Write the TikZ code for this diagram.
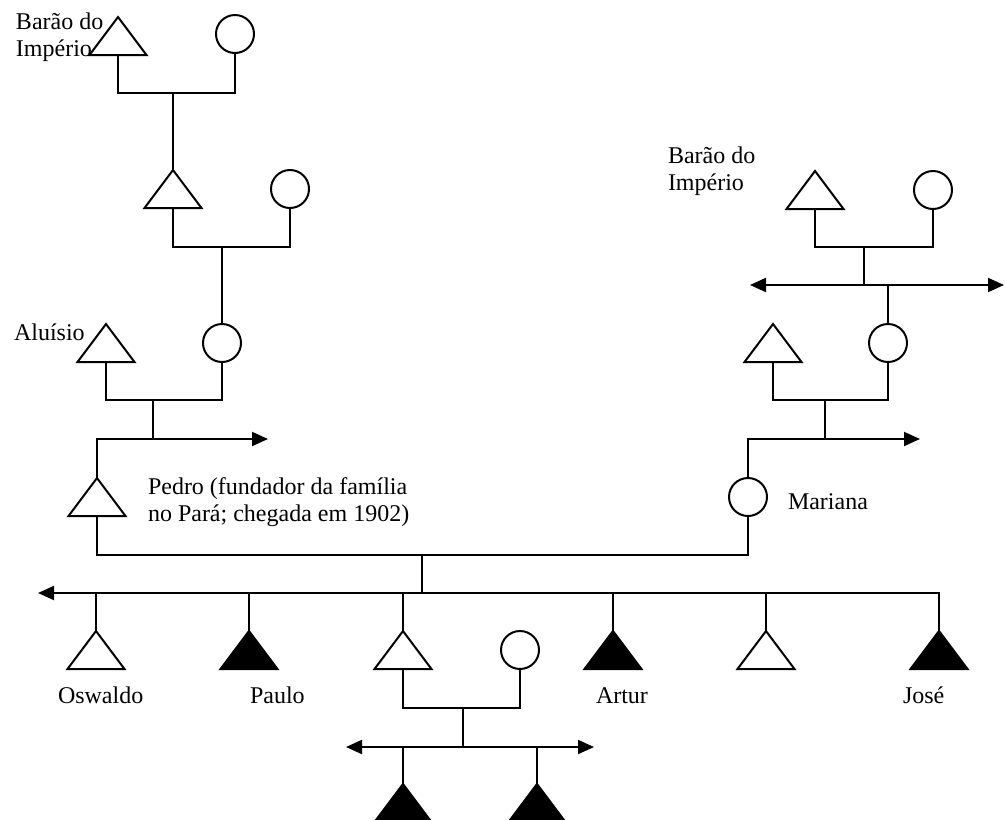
\documentclass[tikz,border=0pt]{standalone}
\usepackage{fontspec}
\setmainfont{Liberation Serif}
\usetikzlibrary{arrows.meta}

\begin{document}
\begin{tikzpicture}[x=1pt,y=-1pt,line width=2pt,
  >={Triangle[length=16pt,width=14pt]},
  homem/.style={rectangle,inner sep=0pt,outer sep=0pt,minimum width=57pt,minimum height=38pt,
    append after command={\pgfextra{\draw[line join=miter,#1] (\tikzlastnode.north)--(\tikzlastnode.south east)--(\tikzlastnode.south west)--cycle;}}},
  homem/.default={},
  homemP/.style={homem={fill=black}},
  mulher/.style={circle,draw,inner sep=0pt,minimum size=38pt},
  rotulo/.style={font=\fontsize{24}{27}\selectfont,inner sep=0pt,align=left,anchor=base west}]
  \useasboundingbox (0,0) rectangle (1005,820);
  % ramo do barao (esquerda)
  \node[homem] (bar1) at (118,36) {};
  \node[mulher] (esp1) at (235,34) {};
  \node[homem] (av1) at (173,189) {};
  \node[mulher] (esp2) at (290,189) {};
  \node[homem] (alu) at (106,343) {};
  \node[mulher] (mae) at (222,343) {};
  \node[homem] (ped) at (97,497) {};
  % ramo do barao (direita)
  \node[homem] (bar2) at (815,190) {};
  \node[mulher] (esp3) at (933,190) {};
  \node[homem] (avR) at (773,343) {};
  \node[mulher] (maeR) at (888,343) {};
  \node[mulher] (mar) at (748,497) {};
  % filhos e netos
  \node[homem] (f1) at (96,650) {};
  \node[homemP] (f2) at (249,650) {};
  \node[homem] (f3) at (403,650) {};
  \node[mulher] (esp4) at (520,650) {};
  \node[homemP] (f4) at (613,650) {};
  \node[homem] (f5) at (766,650) {};
  \node[homemP] (f6) at (939,650) {};
  \node[homemP] (n1) at (403,803) {};
  \node[homemP] (n2) at (537,803) {};
  \coordinate (m1) at (173,93);
  \coordinate (m2) at (222,247);
  \coordinate (m3) at (153,400);
  \coordinate (s1) at (268,439);
  \coordinate (m4) at (864,247);
  \coordinate (s2a) at (750,285);
  \coordinate (s2b) at (1004,285);
  \coordinate (m5) at (825,400);
  \coordinate (s3) at (920,439);
  \coordinate (m6) at (422,555);
  \coordinate (s4) at (38,593);
  \coordinate (m7) at (463,708);
  \coordinate (s5a) at (346,747);
  \coordinate (s5b) at (594,747);
  \draw (bar1.south) |- (m1) -| (esp1.south);
  \draw (m1) -- (av1.north);
  \draw (av1.south) |- (m2) -| (esp2.south);
  \draw (m2) -- (mae.north);
  \draw (alu.south) |- (m3) -| (mae.south);
  \draw (m3) -- (m3 |- s1);
  \draw[->] (ped.north) |- (s1);
  \draw (bar2.south) |- (m4) -| (esp3.south);
  \draw (m4) -- (m4 |- s2a);
  \draw[<->] (s2a) -- (s2b);
  \draw (maeR.north) -- (maeR.north |- s2a);
  \draw (avR.south) |- (m5) -| (maeR.south);
  \draw (m5) -- (m5 |- s3);
  \draw[->] (mar.north) |- (s3);
  \draw (ped.south) |- (m6) -| (mar.south);
  \draw (m6) -- (m6 |- s4);
  \draw[->] (f6.north) |- (s4);
  \foreach \f in {f1,f2,f3,f4,f5} \draw (\f.north) -- (\f.north |- s4);
  \draw (f3.south) |- (m7) -| (esp4.south);
  \draw (m7) -- (m7 |- s5a);
  \draw[<->] (s5a) -- (s5b);
  \foreach \n in {n1,n2} \draw (\n.north) -- (\n.north |- s5a);
  % nomes (base = ultima linha)
  \node[rotulo] (lb1) at (15,56) {Barão do\\Império};
  \node[rotulo] (lalu) at (13,340) {Aluísio};
  \node[rotulo] (lped) at (147,521) {Pedro (fundador da família\\no Pará; chegada em 1902)};
  \node[rotulo] (lb2) at (667,190) {Barão do\\Império};
  \node[rotulo] (lmar) at (787,509) {Mariana};
  \node[rotulo] (lf1) at (57,703) {Oswaldo};
  \node[rotulo] (lf2) at (249,703) {Paulo};
  \node[rotulo] (lf4) at (595,703) {Artur};
  \node[rotulo] (lf6) at (902,703) {José};
\end{tikzpicture}
\end{document}
